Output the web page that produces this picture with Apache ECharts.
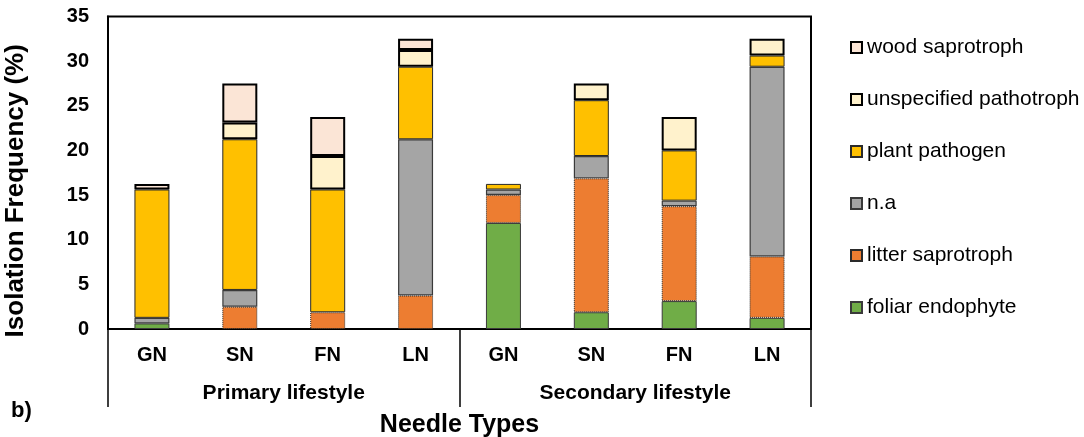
<!DOCTYPE html>
<html>
<head>
<meta charset="utf-8">
<script src="https://cdn.jsdelivr.net/npm/echarts@6/dist/echarts.min.js"></script>
<style>
  html, body { margin: 0; padding: 0; background: #fff; }
  #chart { width: 1084px; height: 437px; }
</style>
</head>
<body>
<div id="chart"></div>
<script>
// Needle types within each lifestyle group
const categories = ['GN', 'SN', 'FN', 'LN', 'GN', 'SN', 'FN', 'LN'];
const groups = ['Primary lifestyle', 'Secondary lifestyle'];
const yTicks = { min: 0, max: 35, interval: 5 };

// Isolation frequency (%) per guild, stacked bottom to top
const foliarEndophyte       = [0.625, 0, 0, 0, 11.875, 1.875, 3.125, 1.25];
const litterSaprotroph      = [0, 2.5, 1.875, 3.75, 3.125, 15.0, 10.625, 6.875];
const notAssigned           = [0.625, 1.875, 0, 17.5, 0.625, 2.5, 0.625, 21.25];
const plantPathogen         = [14.375, 16.875, 13.75, 8.125, 0.625, 6.25, 5.625, 1.25];
const unspecifiedPathotroph = [0, 1.875, 3.75, 1.875, 0, 1.875, 3.75, 1.875];
const woodSaprotroph        = [0.625, 4.375, 4.375, 1.25, 0, 0, 0, 0];

const FONT = '"Liberation Sans", Arial, Helvetica, sans-serif';

const guilds = [
  { name: 'foliar endophyte', data: foliarEndophyte,
    style: { color: '#70AD47', borderColor: '#3a3a3a', borderWidth: 1 } },
  { name: 'litter saprotroph', data: litterSaprotroph,
    style: { color: '#ED7D31', borderColor: '#2a2a2a', borderWidth: 1, borderType: 'dotted' } },
  { name: 'n.a', data: notAssigned,
    style: { color: '#A5A5A5', borderColor: '#3a3a3a', borderWidth: 1.2 } },
  { name: 'plant pathogen', data: plantPathogen,
    style: { color: '#FFC000', borderColor: '#2a2a2a', borderWidth: 1 } },
  { name: 'unspecified pathotroph', data: unspecifiedPathotroph,
    style: { color: '#FFF2CC', borderColor: '#000', borderWidth: 2 } },
  { name: 'wood saprotroph', data: woodSaprotroph,
    style: { color: '#FBE5D6', borderColor: '#000', borderWidth: 2 } }
];

const series = guilds.map(g => ({
  name: g.name,
  type: 'bar',
  stack: 'total',
  barWidth: 35,
  xAxisIndex: 0,
  itemStyle: g.style,
  emphasis: { disabled: true },
  // empty segments are left out so no border line is drawn at their position
  data: g.data.map(v => (v === 0 ? '-' : v))
}));

const chart = echarts.init(document.getElementById('chart'), null, { renderer: 'canvas' });

chart.setOption({
  animation: false,
  backgroundColor: '#fff',
  textStyle: { fontFamily: FONT, color: '#000' },
  grid: {
    left: 108, right: 273, top: 16.5, bottom: 108,
    outerBoundsMode: 'none',
    containLabel: false,
    show: true, borderColor: '#000', borderWidth: 2, backgroundColor: 'transparent'
  },
  legend: {
    orient: 'vertical',
    left: 845,
    top: 32,
    itemGap: 31,
    itemWidth: 11,
    itemHeight: 11,
    icon: 'rect',
    selectedMode: false,
    data: guilds.map(g => g.name).reverse(),
    textStyle: { fontFamily: FONT, fontSize: 21, color: '#000', lineHeight: 20 }
  },
  xAxis: [
    {
      type: 'category',
      data: categories,
      position: 'bottom',
      axisLine: { show: true, lineStyle: { color: '#000', width: 2 } },
      axisTick: { show: false },
      axisLabel: { interval: 0, margin: 16, fontFamily: FONT, fontSize: 20, fontWeight: 'bold', color: '#000' }
    },
    {
      type: 'category',
      data: groups,
      position: 'bottom',
      axisLine: { show: false },
      axisTick: { show: true, interval: 0, length: 78, lineStyle: { color: '#000', width: 1.5 } },
      axisLabel: { interval: 0, margin: 54, fontFamily: FONT, fontSize: 21, fontWeight: 'bold', color: '#000' },
      name: 'Needle Types',
      nameLocation: 'middle',
      nameGap: 84,
      nameTextStyle: { fontFamily: FONT, fontSize: 25, fontWeight: 'bold', color: '#000' }
    }
  ],
  yAxis: {
    type: 'value',
    min: yTicks.min,
    max: yTicks.max,
    interval: yTicks.interval,
    axisLine: { show: true, lineStyle: { color: '#000', width: 2 } },
    axisTick: { show: false },
    splitLine: { show: false },
    axisLabel: { margin: 19, fontFamily: FONT, fontSize: 20, fontWeight: 'bold', color: '#000' },
    name: 'Isolation Frequency (%)',
    nameLocation: 'middle',
    nameGap: 79,
    nameTextStyle: { fontFamily: FONT, fontSize: 26, fontWeight: 'bold', color: '#000', padding: [0, 36, 0, 0] }
  },
  graphic: [
    {
      type: 'text',
      left: 11,
      top: 400,
      style: { text: 'b)', fontFamily: FONT, fontSize: 22, fontWeight: 'bold', fill: '#000' }
    }
  ],
  series: series
});
</script>
</body>
</html>
